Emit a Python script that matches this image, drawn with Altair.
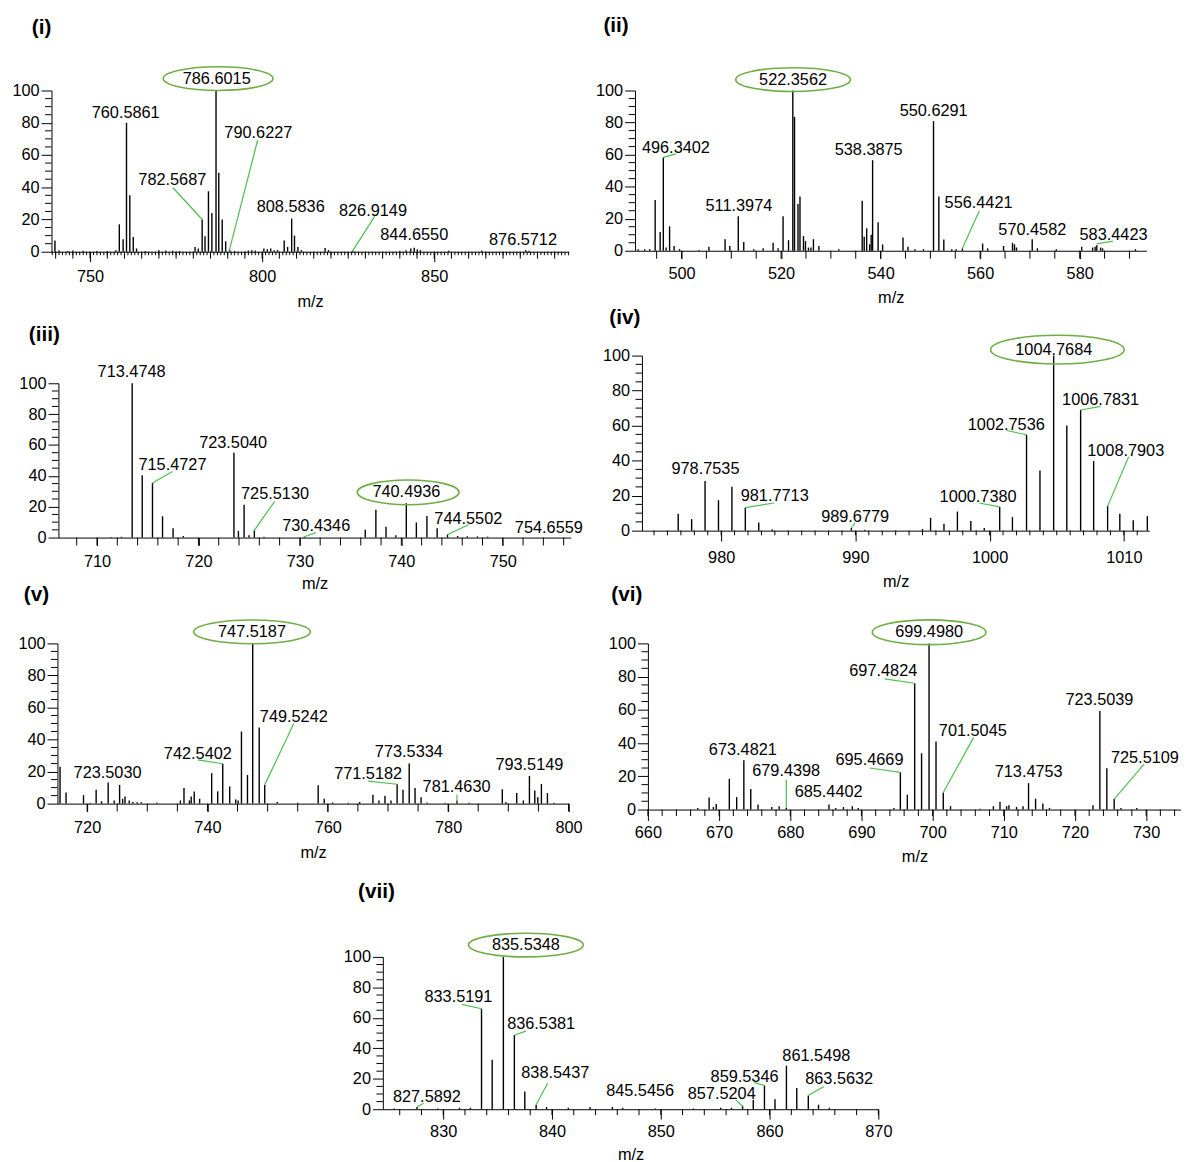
import math
import altair as alt
import pandas as pd

FONT = "Liberation Sans"
FS = 16.5
LEAD = "#4dbf4d"
ELL = "#6fae45"

# ---------------- panel (i) ----------------
i_mz = [739.8, 741.0, 743.5, 745.0, 748.0, 752.0, 755.0, 757.5, 758.5, 759.6,
        760.59, 761.55, 762.55, 763.5, 766.0, 770.0, 772.0, 774.0, 776.0, 780.5,
        781.45, 782.57, 783.4, 784.4, 785.4, 786.6, 787.4, 788.4, 789.4, 790.62,
        792.0, 796.0, 797.0, 798.0, 800.5, 801.5, 802.5, 803.5, 804.5, 806.4,
        807.4, 808.58, 809.4, 810.4, 811.4, 818.3, 819.3, 826.4, 840.0, 841.8,
        843.2, 844.2, 845.1, 846.0, 854.2, 863.8, 876.57, 877.5]
i_int = [7, 1, 0.5, 0.8, 0.6, 0.5, 0.5, 1, 17, 7.8,
         80, 35, 9.2, 2, 0.5, 1, 0.8, 0.7, 0.5, 3,
         2, 20, 9.6, 37.5, 24, 100, 49, 20, 6.5, 1.2,
         0.5, 0.8, 1, 0.8, 2, 1.5, 2, 1, 1, 7,
         3, 20.6, 10, 3, 1, 2.3, 1, 0.8, 0.6, 1,
         2, 2.5, 1.5, 1, 0.7, 0.8, 1, 0.6]
i_lab = ["786.6015", "760.5861", "782.5687", "790.6227", "808.5836", "826.9149", "844.6550", "876.5712"]
i_lab_x = [786.8, 760.35, 773.9, 798.9, 808.3, 832.2, 844.2, 875.8]
i_lab_y = [107.4, 86.0, 44.2, 73.8, 27.6, 25.3, 10.4, 7.4]
i_ld_x1 = [782.57, 790.4, 826.3]
i_ld_y1 = [20.0, 0.4, 0.5]
i_ld_x2 = [774.1, 798.7, 832.7]
i_ld_y2 = [39.7, 69.3, 21.9]
i_ell_x = [787.2]
i_ell_y = [107.4]

# ---------------- panel (ii) ----------------
ii_mz = [491.3, 492.6, 493.6, 494.7, 495.7, 496.34, 496.9, 497.6, 498.5, 499.6,
         503.5, 505.5, 508.75, 509.7, 511.4, 512.5, 514.5, 516.4, 518.4, 519.4,
         520.4, 521.5, 522.36, 522.7, 523.4, 523.8, 524.5, 524.9, 525.5, 526.0,
         526.5, 527.6, 531.6, 536.3, 536.7, 537.2, 537.8, 538.1, 538.39, 539.5,
         540.4, 544.5, 545.5, 546.9, 548.6, 550.63, 551.7, 552.7, 554.3, 555.2,
         556.44, 560.5, 561.5, 564.7, 566.5, 566.9, 567.3, 570.46, 571.5, 575.3,
         580.4, 582.6, 583.1, 583.44, 584.2, 584.6, 591.2]
ii_int = [1, 1, 1, 31.6, 11.7, 58.3, 2, 15.2, 3, 1,
          0.5, 2.5, 7.2, 3, 21.6, 5.5, 1, 1.5, 5, 1.5,
          21.6, 6.6, 100, 83.6, 29.2, 33.9, 9.2, 6, 2, 2,
          7.2, 3, 1, 31.2, 8.8, 14, 4, 10, 56.5, 17.8,
          3.9, 8.2, 2.5, 1, 1, 80.9, 33.9, 7, 1, 1,
          1.5, 4.5, 1.5, 3, 5, 4, 2, 7.2, 1.5, 1,
          2.5, 2, 2.5, 3.5, 2, 1.5, 1]
ii_lab = ["522.3562", "496.3402", "511.3974", "538.3875", "550.6291", "556.4421", "570.4582", "583.4423"]
ii_lab_x = [522.41, 498.87, 511.53, 537.6, 550.66, 559.68, 570.48, 586.8]
ii_lab_y = [106.8, 64.0, 28.0, 63.0, 87.2, 30.0, 13.2, 10.0]
ii_ld_x1 = [496.34, 556.44, 583.44]
ii_ld_y1 = [58.3, 1.5, 4.3]
ii_ld_x2 = [498.87, 559.84, 586.7]
ii_ld_y2 = [60.5, 24.9, 6.0]
ii_ell_x = [522.41]
ii_ell_y = [106.8]

# ---------------- panel (iii) ----------------
iii_mz = [711.4, 712.4, 713.47, 714.46, 715.47, 716.46, 717.5, 718.5, 723.5, 723.94,
          724.5, 724.98, 725.51, 726.47, 730.43, 736.44, 737.49, 738.49, 739.46, 740.49,
          741.48, 742.52, 743.53, 744.55, 745.55, 746.5, 747.5, 748.5]
iii_int = [0.3, 0.5, 100, 40.4, 35.3, 13.8, 6, 1, 54.9, 4.3,
           21.3, 1.5, 4.7, 0.5, 0.5, 5.1, 18.1, 7, 1.5, 22.3,
           9.8, 14, 6, 2, 1, 0.8, 0.8, 0.6]
iii_lab = ["713.4748", "715.4727", "723.5040", "725.5130", "730.4346", "740.4936", "744.5502", "754.6559"]
iii_lab_x = [713.41, 717.44, 723.42, 727.55, 731.61, 740.5, 746.6, 754.54]
iii_lab_y = [107.2, 47.0, 61.3, 28.2, 7.5, 29.3, 12.2, 6.2]
iii_ld_x1 = [715.47, 725.51, 730.43, 744.55]
iii_ld_y1 = [35.3, 4.7, 0.5, 2.0]
iii_ld_x2 = [717.44, 727.52, 731.57, 746.62]
iii_ld_y2 = [42.8, 23.5, 3.2, 8.3]
iii_ell_x = [740.67]
iii_ell_y = [29.3]

# ---------------- panel (iv) ----------------
iv_mz = [976.8, 977.8, 978.8, 979.8, 980.8, 981.8, 982.8, 983.8, 989.7, 990.7,
         995.0, 995.6, 996.6, 997.6, 998.6, 999.6, 1000.75, 1001.7, 1002.75, 1003.75,
         1004.77, 1005.75, 1006.78, 1007.75, 1008.79, 1009.7, 1010.7, 1011.75]
iv_int = [9.6, 6.6, 28.3, 17.4, 25.1, 13.2, 4.7, 0.8, 1.5, 0.5,
          1, 7.3, 4, 10.9, 5.5, 1.5, 13.6, 7.7, 54.8, 34.3,
          100, 60, 68.9, 39.7, 14, 9.6, 6, 8.3]
iv_lab = ["1004.7684", "1006.7831", "1002.7536", "1008.7903", "1000.7380", "989.6779", "981.7713", "978.7535"]
iv_lab_x = [1004.78, 1008.27, 1001.24, 1010.14, 999.14, 989.98, 983.99, 978.83]
iv_lab_y = [103.4, 74.7, 60.6, 45.6, 19.2, 7.7, 20.0, 35.2]
iv_ld_x1 = [1006.78, 1002.75, 1008.79, 1000.75, 989.7, 981.8]
iv_ld_y1 = [68.9, 54.8, 14.0, 13.6, 1.5, 13.2]
iv_ld_x2 = [1008.27, 1001.27, 1010.36, 999.23, 989.97, 983.95]
iv_ld_y2 = [71.0, 57.2, 42.2, 15.8, 4.5, 15.8]
iv_ell_x = [1005.05]
iv_ell_y = [103.4]

# ---------------- panel (v) ----------------
v_mz = [715.5, 716.5, 719.4, 720.5, 721.5, 722.4, 723.5, 724.5, 725.4, 725.9,
        726.3, 727.0, 727.6, 728.3, 729.0, 731.6, 735.5, 736.1, 737.0, 737.3,
        737.8, 738.7, 740.7, 741.7, 742.54, 743.7, 744.7, 745.1, 745.65, 746.65,
        747.52, 748.6, 749.52, 751.6, 755.0, 758.4, 759.4, 760.8, 763.4, 765.3,
        767.5, 768.5, 769.5, 770.5, 771.52, 772.5, 773.53, 774.5, 775.5, 776.5,
        779.5, 781.46, 783.5, 789.0, 789.6, 791.4, 792.5, 793.51, 794.4, 794.9,
        795.5, 796.5, 797.6]
v_int = [23, 7, 5.3, 0.5, 8.6, 1.5, 13.2, 2, 11.7, 3,
         4.5, 2, 1, 0.8, 0.8, 0.7, 2, 9.7, 2, 4.5,
         7.6, 3, 19, 7.6, 24.9, 10.7, 2.5, 2, 45, 17.9,
         100, 47.5, 11.7, 1, 0.5, 11.5, 3, 0.7, 0.5, 1,
         5.5, 2, 4.9, 2, 12.1, 8.6, 25.1, 9.7, 4, 0.7,
         0.5, 2, 0.5, 9, 1, 6.6, 2, 17.3, 8.2, 4,
         12.3, 6.6, 0.5]
v_lab = ["747.5187", "723.5030", "742.5402", "749.5242", "773.5334", "771.5182", "781.4630", "793.5149"]
v_lab_x = [747.4, 723.4, 738.4, 754.35, 773.47, 766.7, 781.4, 793.5]
v_lab_y = [107.2, 19.1, 31.0, 54.1, 32.1, 18.5, 10.3, 23.9]
v_ld_x1 = [742.54, 749.52, 771.52, 781.46]
v_ld_y1 = [24.9, 11.7, 12.1, 1.0]
v_ld_x2 = [738.4, 754.35, 766.7, 781.46]
v_ld_y2 = [27.3, 50.0, 14.0, 5.7]
v_ell_x = [747.4]
v_ell_y = [107.2]

# ---------------- panel (vi) ----------------
vi_mz = [667.0, 668.6, 669.2, 669.6, 671.44, 672.47, 673.48, 674.45, 675.47, 677.4,
         678.44, 679.44, 685.44, 686.4, 687.47, 688.72, 689.56, 694.56, 695.47, 696.45,
         697.48, 698.45, 699.5, 700.48, 701.5, 702.52, 706.69, 708.54, 709.47, 710.4,
         710.72, 711.79, 712.71, 713.48, 714.47, 715.49, 716.42, 722.53, 723.5, 724.48,
         725.51, 726.47, 728.69]
vi_int = [1, 7.3, 1.5, 3.4, 18.5, 7.5, 29.6, 12.3, 3, 1.5,
          2, 1, 3, 1, 1.5, 2, 1, 1, 22.4, 8.9,
          76, 33.9, 100, 40.9, 10.3, 2, 0.5, 2, 4.6, 2,
          2.6, 1.5, 2, 15.9, 6.5, 3.6, 1, 2.6, 59.3, 24.8,
          6.3, 1, 1]
vi_lab = ["699.4980", "697.4824", "695.4669", "701.5045", "713.4753", "723.5039", "725.5109",
          "673.4821", "679.4398", "685.4402"]
vi_lab_x = [699.51, 693.07, 691.13, 705.65, 713.5, 723.44, 729.83, 673.34, 679.43, 685.39]
vi_lab_y = [106.7, 83.5, 29.8, 47.2, 22.6, 66.1, 31.0, 35.9, 23.0, 10.5]
vi_ld_x1 = [697.48, 695.47, 701.5, 725.51, 679.44]
vi_ld_y1 = [76.0, 22.4, 10.3, 6.3, 1.0]
vi_ld_x2 = [693.26, 691.17, 705.76, 729.72, 679.44]
vi_ld_y2 = [78.6, 25.0, 43.3, 27.4, 18.0]
vi_ell_x = [699.51]
vi_ell_y = [106.7]

# ---------------- panel (vii) ----------------
vii_mz = [825.5, 827.59, 829.5, 831.5, 832.5, 833.52, 834.5, 835.53, 836.54, 837.5,
          838.54, 839.5, 841.5, 843.5, 845.55, 846.5, 849.5, 853.0, 855.5, 856.5,
          857.52, 858.5, 859.53, 860.5, 861.55, 862.5, 863.56, 864.5, 865.5]
vii_int = [0.5, 1.5, 0.5, 1, 1, 66, 32.5, 100, 48.7, 11.7,
           3, 1.5, 1, 1.5, 1.5, 1, 0.5, 0.5, 1, 1,
           2, 6, 15.6, 6.5, 28.6, 14, 9, 3, 1]
vii_lab = ["835.5348", "833.5191", "836.5381", "838.5437", "845.5456", "857.5204",
           "859.5346", "861.5498", "863.5632", "827.5892"]
vii_lab_x = [837.6, 831.4, 839.0, 840.3, 848.1, 855.6, 857.7, 864.3, 866.4, 828.5]
vii_lab_y = [107.8, 73.4, 55.8, 24.0, 11.7, 9.7, 21.4, 35.0, 20.0, 7.8]
vii_ld_x1 = [833.52, 836.54, 838.54, 857.52, 859.53, 863.56, 827.59]
vii_ld_y1 = [66.0, 48.7, 3.0, 2.0, 15.6, 9.0, 1.5]
vii_ld_x2 = [831.7, 837.6, 839.6, 856.9, 858.6, 865.0, 828.2]
vii_ld_y2 = [68.8, 51.3, 17.0, 6.0, 17.5, 15.0, 4.0]
vii_ell_x = [837.6]
vii_ell_y = [107.8]


def ticks(lo, hi, step):
    out = []
    k = math.ceil(lo / step - 1e-9)
    while k * step <= hi + 1e-9:
        out.append(round(k * step, 6))
        k += 1
    return out


def title_of(name, dx, off):
    return alt.TitleParams(text=name, anchor="start", frame="group", dx=dx, offset=off,
                           fontSize=21, fontWeight="bold", font=FONT, color="black", orient="top")


def panel(name, mz, inten, lab, lab_x, lab_y, l_x1, l_y1, l_x2, l_y2, e_x, e_y, st):
    lo, hi = st["dom"]
    W, H = st["W"], st["H"]
    ts = st["ts"]
    xs = alt.Scale(domain=[lo, hi], nice=False, zero=False)
    ys = alt.Scale(domain=[0, 100], nice=False)
    xa = alt.Axis(values=ticks(lo, hi, st["lstep"]), tickSize=ts,
                  labelPadding=max(0.0, 14.0 - ts) + st["lpa"],
                  title="m/z", titlePadding=6.5 + st["tpa"], format="d", labelFlush=False,
                  labelOverlap=False, grid=False, domainColor="black", tickColor="black",
                  labelColor="black", titleColor="black", labelFont=FONT, titleFont=FONT,
                  labelFontSize=FS, titleFontSize=FS, titleFontWeight="normal",
                  domainWidth=1, tickWidth=1)
    ya = alt.Axis(values=[0, 20, 40, 60, 80, 100], tickSize=10.5, labelPadding=2, title=None,
                  grid=False, domainColor="black", tickColor="black", labelColor="black",
                  labelFont=FONT, labelFontSize=FS, domainWidth=1, tickWidth=1)

    def X(f):
        return alt.X(f"{f}:Q", scale=xs, axis=xa)

    def Y(f):
        return alt.Y(f"{f}:Q", scale=ys, axis=ya)

    peaks = pd.DataFrame({"mz": mz, "I": inten, "z": [0] * len(mz)})
    sticks = alt.Chart(peaks).mark_rule(color="black", strokeWidth=1.4).encode(
        x=X("mz"), y=Y("I"), y2=alt.Y2("z:Q"))

    layers = [sticks]
    for step, ln in st["xminor"]:
        tdf = pd.DataFrame({"t": ticks(lo, hi, step)})
        layers.append(alt.Chart(tdf).mark_rule(color="black", strokeWidth=1).encode(
            x=X("t"), y=alt.value(H), y2=alt.value(H + ln)))
    ydf = pd.DataFrame({"t": [v for v in ticks(0, 100, 5) if v % 20 != 0]})
    layers.append(alt.Chart(ydf).mark_rule(color="black", strokeWidth=1).encode(
        y=Y("t"), x=alt.value(-6.5), x2=alt.value(0)))

    ld = pd.DataFrame({"x1": l_x1, "y1": l_y1, "x2": l_x2, "y2": l_y2})
    layers.append(alt.Chart(ld).mark_rule(color=LEAD, strokeWidth=1.2).encode(
        x=X("x1"), y=Y("y1"), x2=alt.X2("x2:Q"), y2=alt.Y2("y2:Q")))

    ldf = pd.DataFrame({"lab": lab, "lx": lab_x, "ly": lab_y})
    layers.append(alt.Chart(ldf).mark_text(font=FONT, fontSize=FS, color="black",
                                           align="center", baseline="middle").encode(
        x=X("lx"), y=Y("ly"), text="lab:N"))

    ew, eh = st["ell"]
    r = eh / ew
    path = f"M -1 0 A 1 {r:.4f} 0 1 0 1 0 A 1 {r:.4f} 0 1 0 -1 0 Z"
    edf = pd.DataFrame({"ex": e_x, "ey": e_y})
    layers.append(alt.Chart(edf).mark_point(shape=path, filled=False, size=ew * ew, color=ELL,
                                            strokeWidth=1.6, opacity=1).encode(
        x=X("ex"), y=Y("ey")))

    ch = alt.layer(*layers).properties(width=W, height=H)
    if name:
        ch = ch.properties(title=title_of(name, st["tdx"], st["toff"]))
    return ch


def spacer(w, h, title=None):
    ch = alt.Chart(pd.DataFrame({"a": [0]})).mark_point(size=0, opacity=0).properties(
        width=w, height=h)
    if title is not None:
        ch = ch.properties(title=title)
    return ch


S_i = dict(dom=[738.8, 889.1], W=523, H=163, lstep=50, ts=10, xminor=[(5, 7), (1, 3.5)],
           ell=(111, 24), tdx=-20, toff=26, lpa=3, tpa=2)
S_ii = dict(dom=[490.66, 593.4], W=517, H=162, lstep=20, ts=8, xminor=[(5, 8)],
            ell=(116, 24), tdx=-32, toff=29.2, lpa=1, tpa=1)
S_iii = dict(dom=[706.2, 756.7], W=518, H=156, lstep=10, ts=8, xminor=[(2, 8)],
             ell=(103, 25), tdx=-30, toff=0, lpa=2, tpa=0)
S_iv = dict(dom=[974.1, 1011.9], W=513, H=177, lstep=10, ts=10.5, xminor=[(1, 4.7)],
            ell=(135, 29), tdx=-33, toff=4.7, lpa=5, tpa=1)
S_v = dict(dom=[715.07, 800.05], W=517, H=162, lstep=20, ts=8, xminor=[(5, 8)],
           ell=(118, 24), tdx=-34, toff=12.5, lpa=2, tpa=2)
S_vi = dict(dom=[660.0, 734.9], W=539, H=168, lstep=10, ts=11, xminor=[(2, 6.5)],
            ell=(115, 25), tdx=-37, toff=12.4, lpa=1, tpa=2)
S_vii = dict(dom=[824.45, 870.0], W=501, H=154, lstep=10, ts=10, xminor=[(2, 6)],
             ell=(116, 24), tdx=-25, toff=28.2, lpa=1, tpa=0)

p1 = panel("(i)", i_mz, i_int, i_lab, i_lab_x, i_lab_y, i_ld_x1, i_ld_y1, i_ld_x2, i_ld_y2, i_ell_x, i_ell_y, S_i)
p2 = panel("(ii)", ii_mz, ii_int, ii_lab, ii_lab_x, ii_lab_y, ii_ld_x1, ii_ld_y1, ii_ld_x2, ii_ld_y2, ii_ell_x, ii_ell_y, S_ii)
p3 = panel(None, iii_mz, iii_int, iii_lab, iii_lab_x, iii_lab_y, iii_ld_x1, iii_ld_y1, iii_ld_x2, iii_ld_y2, iii_ell_x, iii_ell_y, S_iii)
p4 = panel("(iv)", iv_mz, iv_int, iv_lab, iv_lab_x, iv_lab_y, iv_ld_x1, iv_ld_y1, iv_ld_x2, iv_ld_y2, iv_ell_x, iv_ell_y, S_iv)
p5 = panel("(v)", v_mz, v_int, v_lab, v_lab_x, v_lab_y, v_ld_x1, v_ld_y1, v_ld_x2, v_ld_y2, v_ell_x, v_ell_y, S_v)
p6 = panel("(vi)", vi_mz, vi_int, vi_lab, vi_lab_x, vi_lab_y, vi_ld_x1, vi_ld_y1, vi_ld_x2, vi_ld_y2, vi_ell_x, vi_ell_y, S_vi)
p7 = panel("(vii)", vii_mz, vii_int, vii_lab, vii_lab_x, vii_lab_y, vii_ld_x1, vii_ld_y1, vii_ld_x2, vii_ld_y2, vii_ell_x, vii_ell_y, S_vii)

# (iii) sits lower than (iv): its label rides on a small spacer above it
iii_cell = alt.vconcat(spacer(1, 7.5, title_of("(iii)", -30, 11)), p3, spacing=0)

row1 = alt.hconcat(spacer(2.5, 1), p1, spacer(24.5, 1), p2, spacing=0)
row2 = alt.hconcat(spacer(9.5, 1), iii_cell, spacer(17.4, 1), p4, spacing=0)
row3 = alt.hconcat(spacer(8.5, 1), p5, spacer(24.7, 1), p6, spacing=0)
row4 = alt.hconcat(spacer(337.5, 1), p7, spacing=0)

chart = alt.vconcat(row1, spacer(1, 6), row2, row3, spacer(1, 25), row4, spacing=-10).properties(
    padding={"left": 0, "top": 0, "right": 0, "bottom": 0}
).configure(background="white").configure_view(strokeWidth=0, stroke="transparent")

chart.save("out.html", embed_options={"renderer": "svg", "actions": False})
